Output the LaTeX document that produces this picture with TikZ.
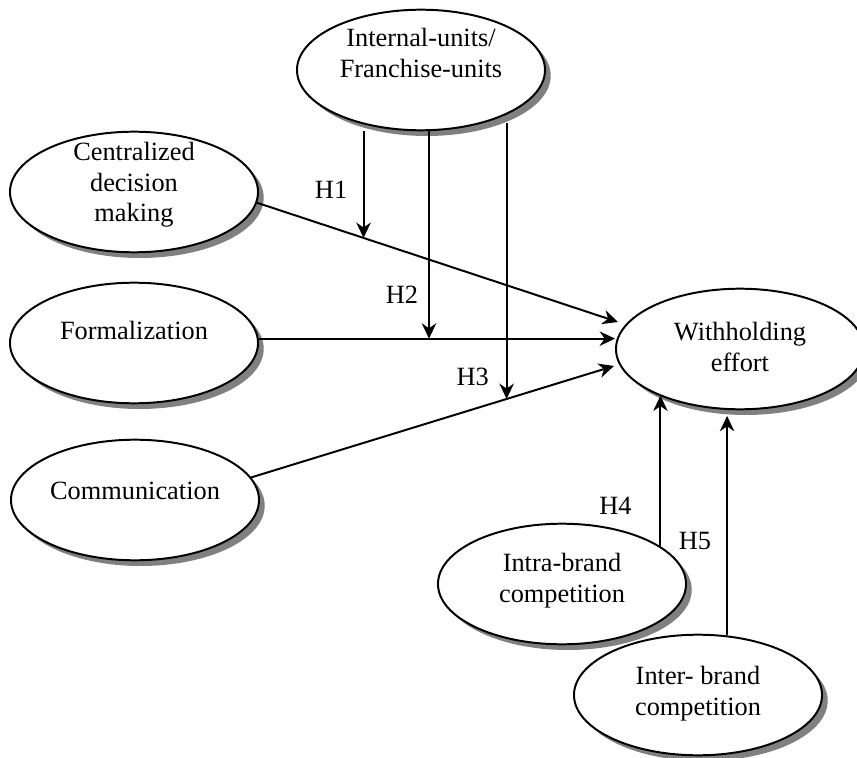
\documentclass[tikz,border=0pt]{standalone}
\usepackage{fontspec}
\setmainfont{Liberation Serif}
\usetikzlibrary{shapes,arrows.meta,positioning,calc,shadows}

% text set a little above the ellipse centre
\newcommand{\lifttext}[2]{\raisebox{#1}[0pt][0pt]{\begin{tabular}{@{}c@{}}#2\end{tabular}}}

\begin{document}
\begin{tikzpicture}[
    x=0.016cm, y=-0.016cm,
    construct/.style={ellipse, draw, line width=0.9pt, fill=white, minimum width=3.97cm, minimum height=1.93cm, inner sep=0pt, font=\fontsize{12}{14}\selectfont, drop shadow={shadow xshift=2.6pt, shadow yshift=-2.6pt, fill=gray, opacity=1}},
    arrow/.style={-{Stealth[length=7pt,width=6.6pt]}, line width=0.9pt},
    hyp/.style={font=\fontsize{12}{14}\selectfont, inner sep=2pt}
]
\useasboundingbox (0,0) rectangle (857,758);

\node[construct] (units) at (421,70) {\lifttext{3.35pt}{Internal-units/\\Franchise-units}};
\node[construct] (central) at (134,192) {\lifttext{0.15pt}{Centralized\\decision\\making}};
\node[construct] (formal) at (134,343) {\lifttext{1.3pt}{Formalization}};
\node[construct] (commun) at (135,500) {\lifttext{0.15pt}{Communication}};
\node[construct] (withhold) at (740,349) {\lifttext{-3.25pt}{Withholding\\effort}};
\node[construct] (intra) at (562,584) {\lifttext{-1.65pt}{Intra-brand\\competition}};
\node[construct] (inter) at (698,695) {\lifttext{-2.35pt}{Inter- brand\\competition}};

% direct effects
\draw[arrow] (central.-5) -- coordinate[pos=0.295] (m1) ($(withhold.west)+(3,-27)$);
\draw[arrow] (formal.2.5) -- coordinate[pos=0.478] (m2) (formal.2.5 -| withhold.west);
\draw[arrow] (commun.11) -- coordinate[pos=0.704] (m3) ($(withhold.west)+(-1,17)$);

% moderation
\draw[arrow] (m1 |- units.south) -- node[hyp, left=5pt, pos=0.55] (h1) {H1} (m1);
\draw[arrow] (m2 |- units.south) -- node[hyp, left=2.5pt, pos=0.79] (h2) {H2} (m2);
\draw[arrow] ($(m3 |- units.south)+(0,-8)$) -- node[hyp, left=5.7pt, pos=0.92] (h3) {H3} (m3);

% competition
\draw[arrow] (intra.21) -- node[hyp, left=10.7pt, pos=0.27] (h4) {H4} (intra.21 |- withhold.210);
\draw[arrow] (inter.64) -- node[hyp, left=4.8pt, pos=0.43] (h5) {H5} ($(inter.64 |- withhold.258)+(0,6)$);

\end{tikzpicture}
\end{document}
